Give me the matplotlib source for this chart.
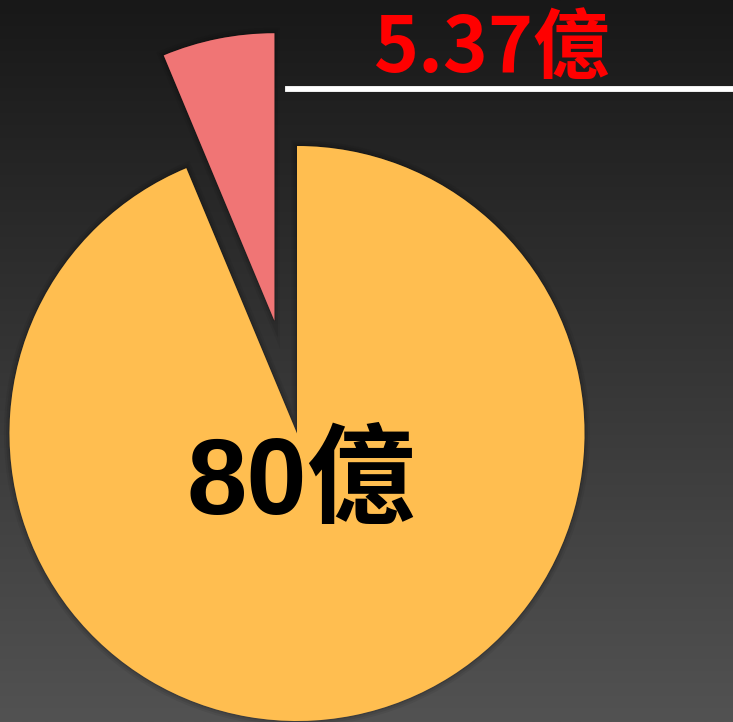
"""Exploded two-slice pie on a dark gradient background."""

import matplotlib

matplotlib.use("Agg")
import matplotlib.patheffects as pe
import matplotlib.pyplot as plt
import numpy as np

values = [5.37, 80.0]
labels = ["5.37億", "80億"]
colors = ["#f07575", "#ffbe50"]
explode = [0.40, 0.0]

W, H = 733, 722
fig = plt.figure(figsize=(W / 100, H / 100), dpi=100)

# background gradient
bg = fig.add_axes([0, 0, 1, 1], zorder=0)
grad = np.linspace(0.0, 1.0, 256)[:, None]
bg.imshow(grad, aspect="auto", cmap=matplotlib.colors.LinearSegmentedColormap.from_list(
    "bg", ["#181818", "#525252"]), extent=(0, 1, 1, 0))
bg.set_axis_off()

# pie axes: centre at (297, 433.5) px, radius 287.5 px
cx, cy, r = 297.0, 433.5, 287.5
ax = fig.add_axes([(cx - r) / W, (H - cy - r) / H, 2 * r / W, 2 * r / H], zorder=1)
ax.patch.set_alpha(0)
wedges, _ = ax.pie(
    values,
    colors=colors,
    explode=explode,
    startangle=90,
    counterclock=True,
    radius=1.0,
    wedgeprops={"linewidth": 0},
)
shadow = [
    pe.Stroke(linewidth=8, foreground="black", alpha=0.06),
    pe.Stroke(linewidth=5, foreground="black", alpha=0.08),
    pe.Stroke(linewidth=2, foreground="black", alpha=0.12),
    pe.Normal(),
]
for w in wedges:
    w.set_clip_on(False)
    w.set_path_effects(shadow)
ax.set_xlim(-1, 1)
ax.set_ylim(-1, 1)
ax.set_axis_off()

# big value label inside the yellow slice
fig.text(301 / W, 1 - 485 / H, labels[1], ha="center", va="center",
         fontsize=78, fontweight="bold", color="black",
         family=["Liberation Sans", "Noto Sans CJK TC"], zorder=3)

# callout for the small slice
fig.text(491 / W, 1 - 49 / H, labels[0], ha="center", va="center",
         fontsize=55, fontweight="bold", color="#ff0000",
         family=["Noto Sans CJK TC", "DejaVu Sans"], zorder=3)
fig.add_artist(plt.Line2D([288 / W, 1.0], [1 - 89 / H, 1 - 89 / H],
                          color="white", linewidth=4.2, zorder=3))

fig.savefig("out.png", dpi=100)
